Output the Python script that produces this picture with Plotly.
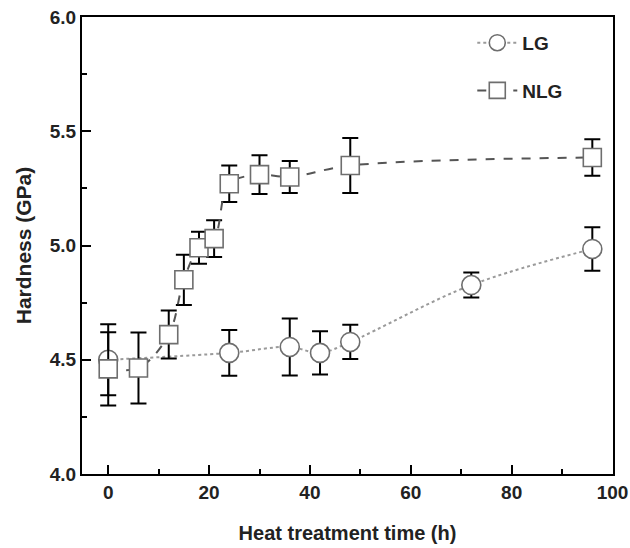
import plotly.graph_objects as go

# LG series
lg_x = [0, 24, 36, 42, 48, 72, 96]
lg_y = [4.50, 4.53, 4.556, 4.53, 4.578, 4.827, 4.985]
lg_err = [0.155, 0.10, 0.125, 0.095, 0.075, 0.055, 0.095]

# NLG series
nlg_x = [0, 6, 12, 15, 18, 21, 24, 30, 36, 48, 96]
nlg_y = [4.46, 4.464, 4.61, 4.85, 4.99, 5.03, 5.27, 5.31, 5.30, 5.35, 5.385]
nlg_err = [0.16, 0.155, 0.105, 0.11, 0.07, 0.08, 0.08, 0.085, 0.07, 0.12, 0.08]

x_ticks = [0, 20, 40, 60, 80, 100]
y_ticks = [4.0, 4.5, 5.0, 5.5, 6.0]

FONT = "Liberation Sans"
marker_line = dict(color="#6e6e6e", width=1.6)
err_style = dict(type="data", visible=True, color="black", thickness=2, width=8)

fig = go.Figure()
fig.add_trace(go.Scatter(
    x=lg_x, y=lg_y, name="LG", mode="lines+markers", legendgroup="a",
    line=dict(color="#9a9a9a", width=2, dash="dot", shape="spline"),
    marker=dict(symbol="circle", size=19, color="white", line=marker_line),
    error_y=dict(array=lg_err, **err_style),
))
fig.add_trace(go.Scatter(
    x=nlg_x, y=nlg_y, name="NLG", mode="lines+markers", legendgroup="b",
    line=dict(color="#555555", width=2, dash="dash", shape="spline"),
    marker=dict(symbol="square", size=18, color="white", line=marker_line),
    error_y=dict(array=nlg_err, **err_style),
))

axis_common = dict(
    showline=True, linecolor="black", linewidth=2, mirror=True,
    ticks="inside", ticklen=9, tickwidth=2, tickcolor="black",
    showgrid=False, zeroline=False, automargin=False,
    tickfont=dict(family=FONT, size=19, color="#222", weight="bold"),
)

fig.update_xaxes(
    range=[-5.2, 100.1], tickvals=x_ticks, ticktext=[str(v) for v in x_ticks],
    minor=dict(ticks="inside", ticklen=5, tickwidth=2, tickcolor="black", dtick=10, tick0=0),
    title=dict(text="Heat treatment time (h)", font=dict(family=FONT, size=20, color="#222", weight="bold"), standoff=24),
    **axis_common,
)
fig.update_yaxes(
    range=[4.0, 6.0], tickvals=y_ticks, ticktext=[f"{v:.1f}" for v in y_ticks],
    minor=dict(ticks="inside", ticklen=5, tickwidth=2, tickcolor="black", dtick=0.25, tick0=4.0),
    title=dict(text="Hardness (GPa)", font=dict(family=FONT, size=21, color="#222", weight="bold"), standoff=12),
    **axis_common,
)

fig.update_layout(
    width=630, height=548,
    margin=dict(l=82, r=17, t=17, b=74),
    plot_bgcolor="white", paper_bgcolor="white",
    font=dict(family=FONT, color="#222"),
    legend=dict(
        x=0.735, y=0.985, xanchor="left", yanchor="top",
        bgcolor="rgba(0,0,0,0)", borderwidth=0,
        font=dict(family=FONT, size=19, color="#222", weight="bold"),
        tracegroupgap=20, itemwidth=40,
    ),
)

fig.write_html("out.html", config={"displayModeBar": False},
               post_script="document.body.style.margin='0';document.body.style.overflow='hidden';")
